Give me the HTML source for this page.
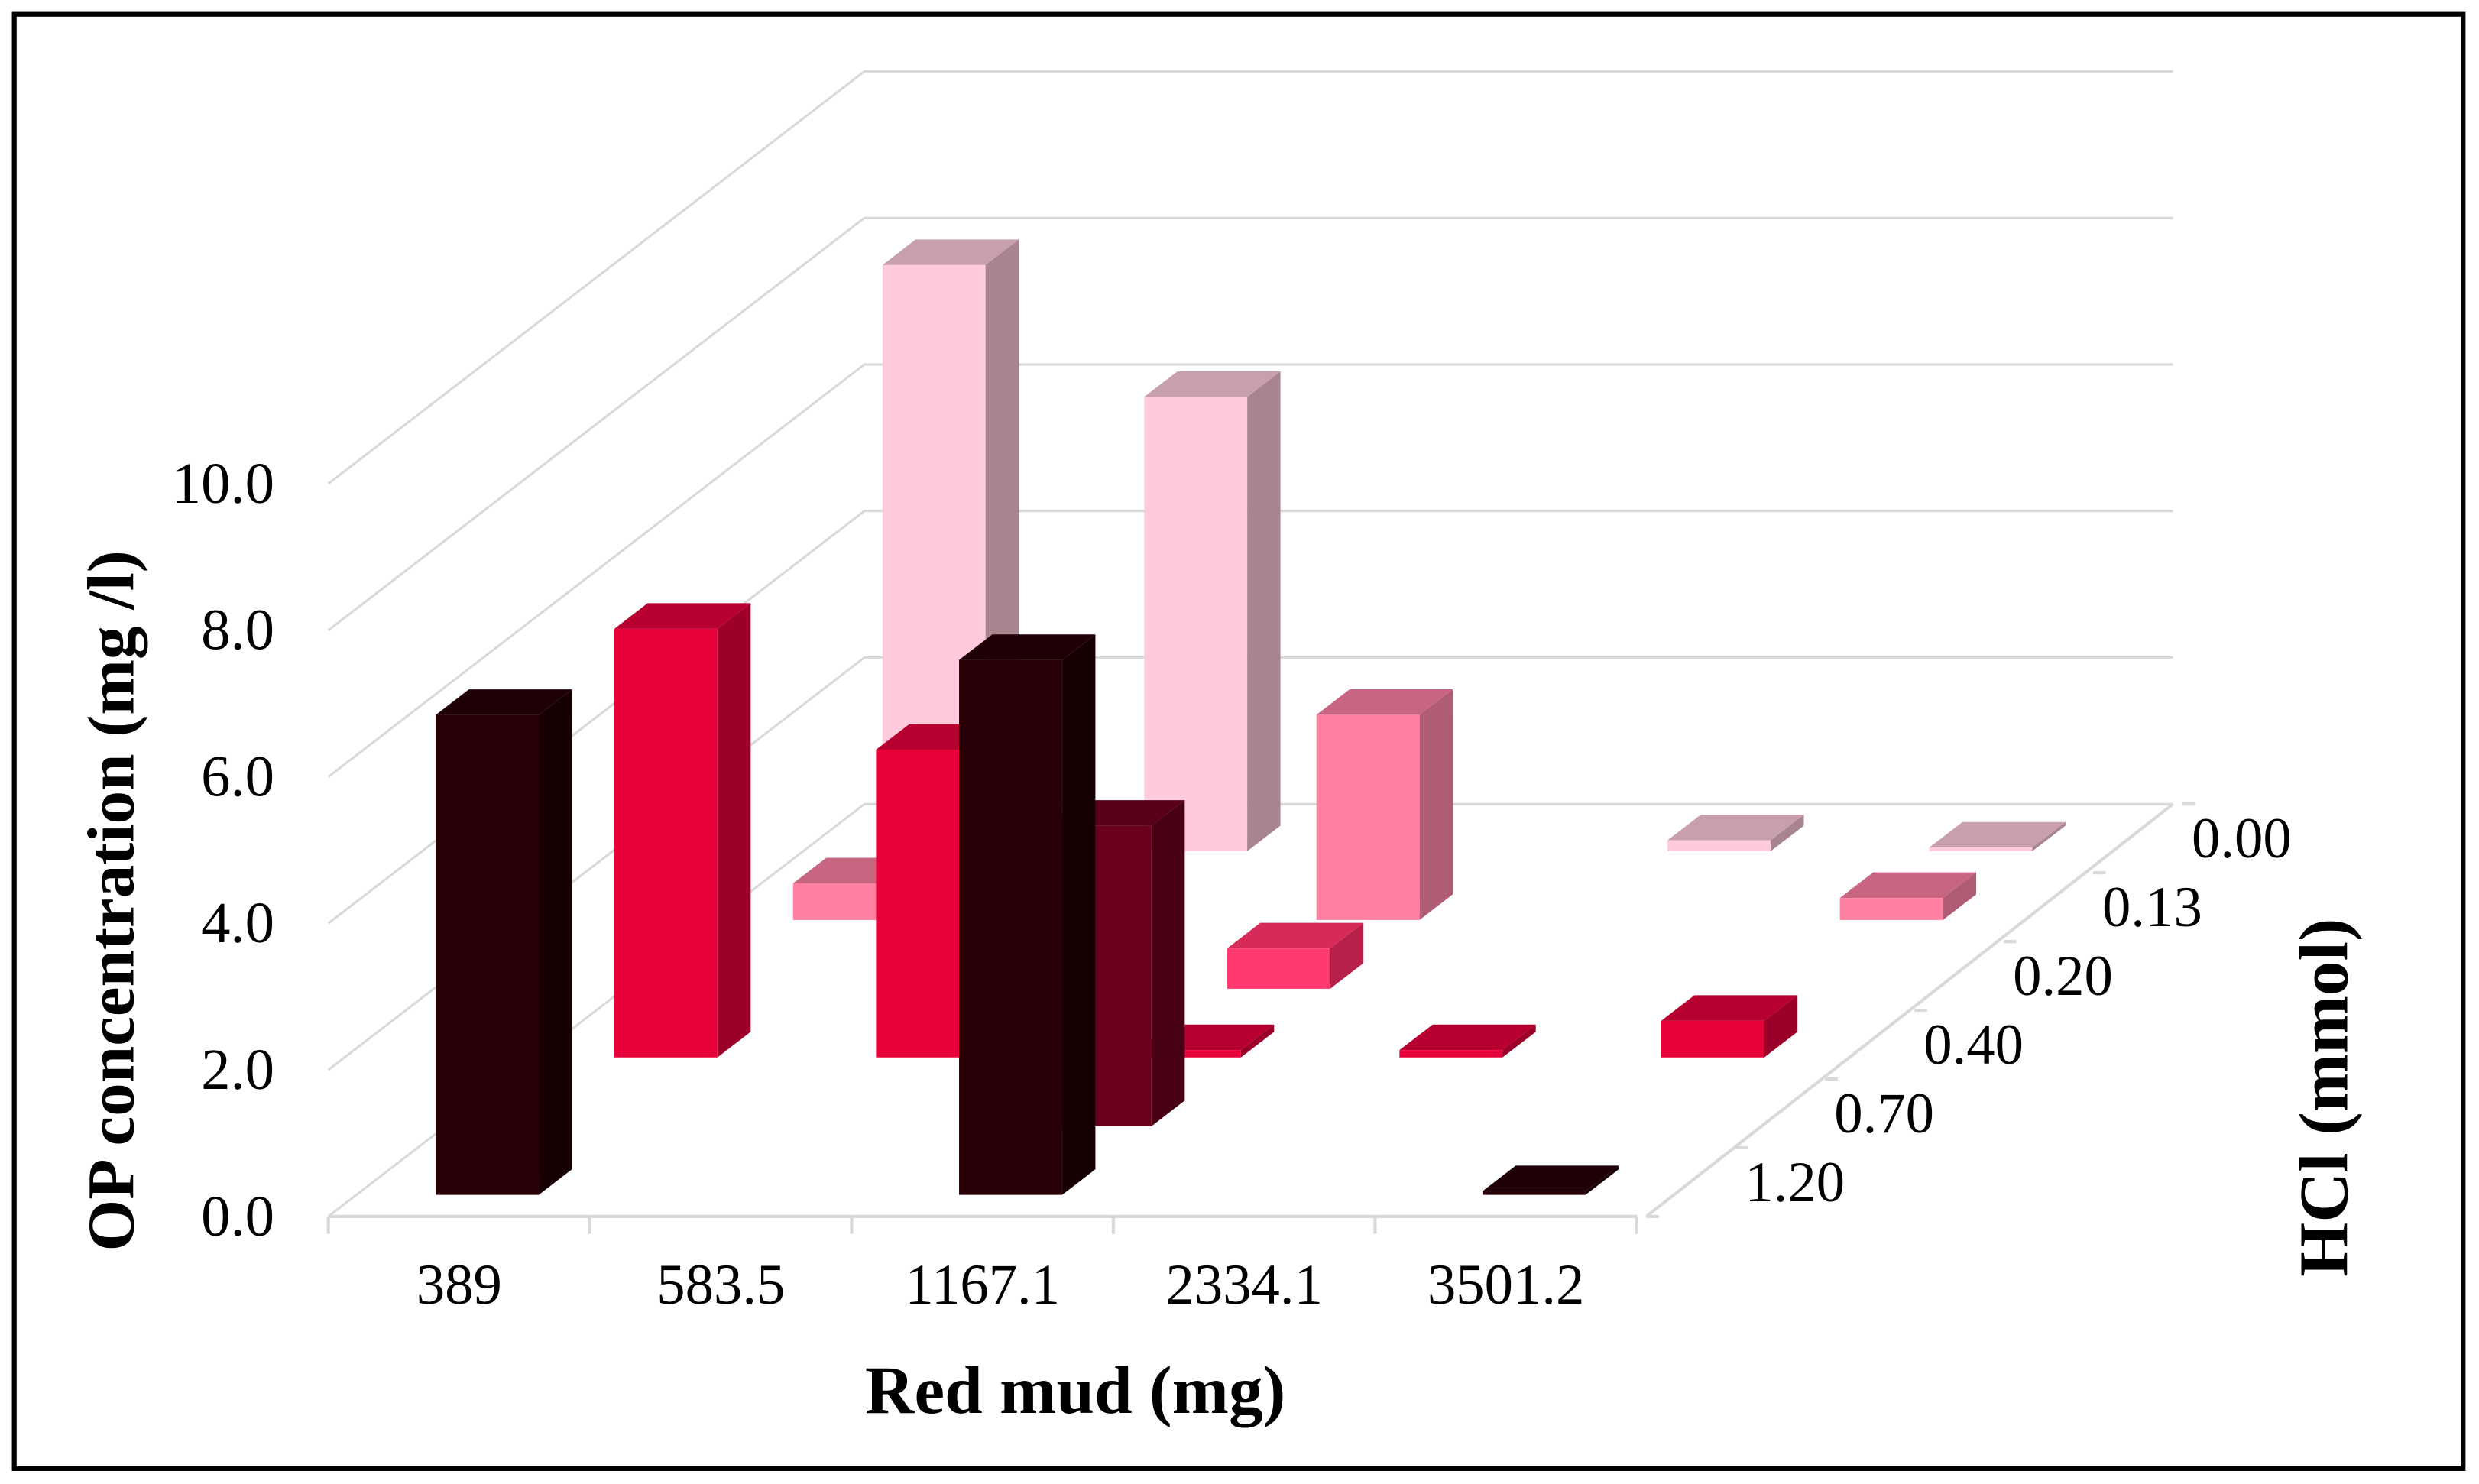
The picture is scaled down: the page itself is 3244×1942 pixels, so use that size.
<!DOCTYPE html>
<html><head><meta charset="utf-8"><style>html,body{margin:0;padding:0;background:#fff}svg{display:block}</style></head>
<body>
<svg id="chart" xmlns="http://www.w3.org/2000/svg" width="3244" height="1942" viewBox="0 0 1563 935.7" preserveAspectRatio="none" font-family="'Liberation Serif', serif">
<rect x="0" y="0" width="1563" height="935.7" fill="#fff"/>
<rect x="9" y="9" width="1544" height="917" fill="none" stroke="#000" stroke-width="3"/>
<g id="grid"></g>
<g id="bars"></g>
<g id="labels"></g>
<text transform="translate(84,568) rotate(-90)" text-anchor="middle" font-size="42" font-weight="bold">OP concentration  (mg /l)</text>
<text x="678" y="891" text-anchor="middle" font-size="43" font-weight="bold">Red mud (mg)</text>
<text transform="translate(1480,692) rotate(-90)" text-anchor="middle" font-size="44" font-weight="bold">HCl  (mmol)</text>
</svg>
<script>
const categories = ["389","583.5","1167.1","2334.1","3501.2"];
const seriesNames = ["1.20","0.70","0.40","0.20","0.13","0.00"];
const s120 = [6.55, 0, 7.3, 0, 0.05];
const s070 = [0, 0, 4.1, 0, 0];
const s040 = [5.85, 4.2, 0.1, 0.1, 0.5];
const s020 = [0, 0, 0.55, 0, 0];
const s013 = [0.5, 0, 2.8, 0, 0.3];
const s000 = [8.0, 6.2, 0, 0.15, 0.05];
const yTicks = ["0.0","2.0","4.0","6.0","8.0","10.0"];
const yTickValues = [0,2,4,6,8,10];

const seriesValues = [s120, s070, s040, s020, s013, s000];
const colors = [
  {f:"#2a0008",t:"#1f0006",s:"#170004"},
  {f:"#6a001c",t:"#58001a",s:"#480014"},
  {f:"#e8003a",t:"#b80030",s:"#9c0028"},
  {f:"#ff3a6e",t:"#d62a58",s:"#b8204a"},
  {f:"#ff80a0",t:"#c86580",s:"#b05c74"},
  {f:"#ffcadb",t:"#c8a0ac",s:"#a8848f"}
];
const NS="http://www.w3.org/2000/svg";
const X0=207, W=825, Y0=767, DX=338, DY=260, VS=46.2;
function px(xf,d){return X0+xf*W+d*DX;}
function py(v,d){return Y0-d*DY-v*VS;}
function el(tag,attrs,parent){const e=document.createElementNS(NS,tag);for(const k in attrs)e.setAttribute(k,attrs[k]);parent.appendChild(e);return e;}
const grid=document.getElementById('grid'), bars=document.getElementById('bars'), labels=document.getElementById('labels');
const gc="#d9d9d9";
yTickValues.forEach((v,i)=>{
  const l=el('polyline',{points:`${px(0,0)},${py(v,0)} ${px(0,1)},${py(v,1)} ${px(1,1)},${py(v,1)}`,fill:'none',stroke:gc,'stroke-width':1.5},grid);
  
  
  const t=el('text',{x:173,y:py(v,0)+12,'text-anchor':'end','font-size':37},labels);
  t.textContent=yTicks[i];
  
  
});
const fl=el('line',{x1:px(0,0),y1:Y0,x2:px(1,0),y2:Y0,stroke:gc,'stroke-width':2},grid);


const rl=el('line',{x1:px(1,0)+6,y1:Y0,x2:px(1,1),y2:py(0,1),stroke:gc,'stroke-width':2},grid);


for(let j=0;j<=categories.length;j++){
  const x=px(j/categories.length,0);
  const tk=el('line',{x1:x,y1:Y0,x2:x,y2:Y0+11,stroke:gc,'stroke-width':2},grid);
  
  
}
categories.forEach((c,j)=>{
  const t=el('text',{x:px((j+0.5)/categories.length,0),y:822,'text-anchor':'middle','font-size':36},labels);
  t.textContent=c;
  
  
});
const nS=seriesNames.length;
for(let i=0;i<=nS;i++){
  const d=i/nS;
  const tk=el('line',{x1:px(1,d)+6,y1:py(0,d),x2:px(1,d)+14,y2:py(0,d),stroke:gc,'stroke-width':2},grid);
  
  
}
seriesNames.forEach((s,i)=>{
  const d=(i+0.5)/nS;
  const t=el('text',{x:px(1,d)+40,y:py(0,d)+12,'text-anchor':'start','font-size':36},labels);
  t.textContent=s;
  
  
});
const halfW=32.5/W, halfD=0.031;
for(let i=nS-1;i>=0;i--){
  const vals=seriesValues[i], col=colors[i];
  vals.forEach((v,j)=>{
    if(v<=0)return;
    const c=(j+0.5)/categories.length, d=(i+0.5)/nS;
    const x1f=c-halfW, x2f=c+halfW, d1=d-halfD, d2=d+halfD;
    const g=el('g',{},bars);
    
    
    el('polygon',{points:`${px(x2f,d1)},${py(0,d1)} ${px(x2f,d2)},${py(0,d2)} ${px(x2f,d2)},${py(v,d2)} ${px(x2f,d1)},${py(v,d1)}`,fill:col.s},g);
    el('polygon',{points:`${px(x1f,d1)},${py(v,d1)} ${px(x2f,d1)},${py(v,d1)} ${px(x2f,d2)},${py(v,d2)} ${px(x1f,d2)},${py(v,d2)}`,fill:col.t},g);
    el('polygon',{points:`${px(x1f,d1)},${py(0,d1)} ${px(x2f,d1)},${py(0,d1)} ${px(x2f,d1)},${py(v,d1)} ${px(x1f,d1)},${py(v,d1)}`,fill:col.f},g);
  });
}
</script>
</body></html>
